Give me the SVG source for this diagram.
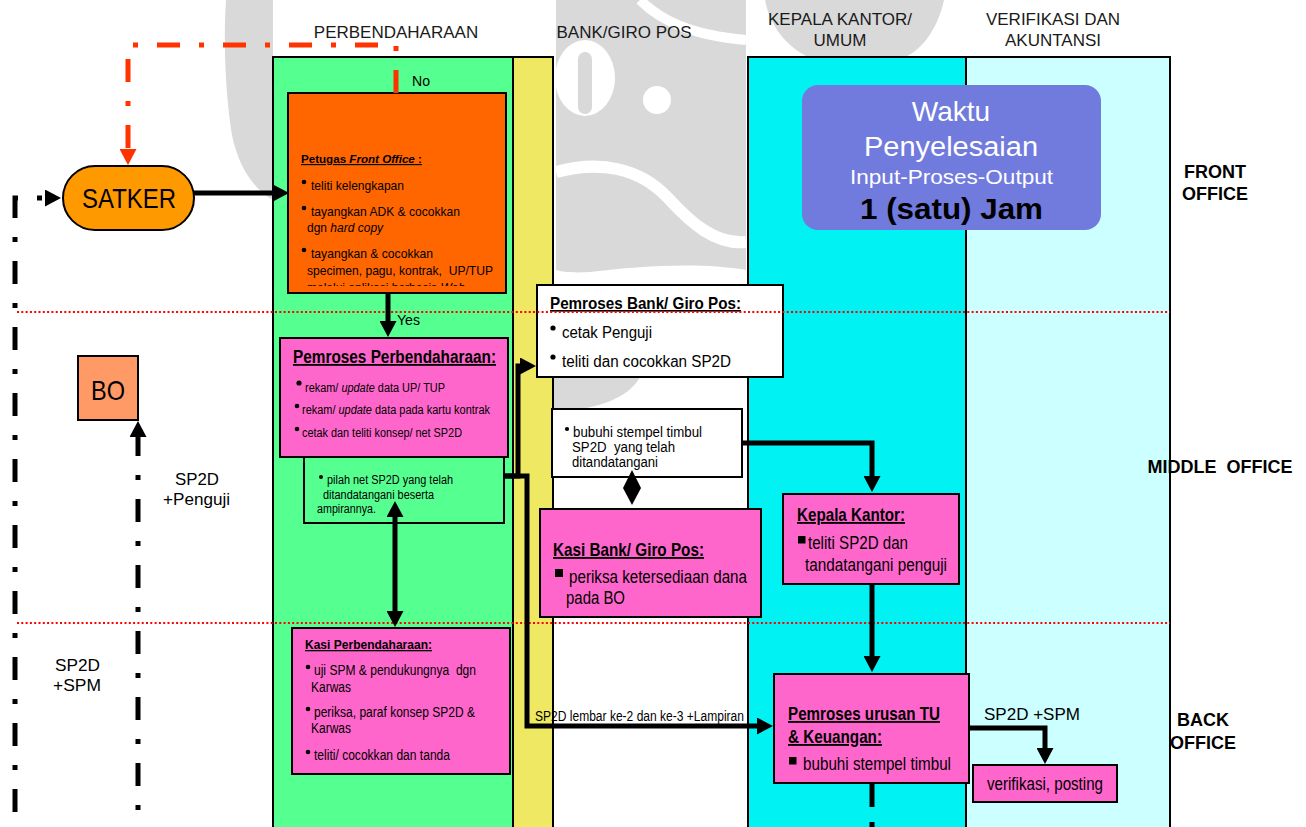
<svg xmlns="http://www.w3.org/2000/svg" width="1306" height="827" viewBox="0 0 1306 827">
  <style>
    text { font-family: "Liberation Sans", Arial, sans-serif; fill: #000; }
    .hdr { font-size: 17px; fill: #1a1a1a; text-anchor: middle; }
    .zone { font-size: 18px; font-weight: bold; text-anchor: middle; }
    .lane { stroke: #000; stroke-width: 2; }
    .box { stroke: #000; stroke-width: 2; }
    .pink { fill: #FF66CC; }
    .ttl { font-weight: bold; text-decoration: underline; }
    .conn { fill: none; stroke: #000; stroke-width: 5; }
    .dashdot { fill: none; stroke: #000; stroke-width: 5; stroke-dasharray: 23 19 5 19; }
    .sep { fill: none; stroke: #FF0000; stroke-width: 2.2; stroke-dasharray: 2 2.3; }
    .wm { fill: #d9d9d9; }
  </style>
  <defs>
    <marker id="arr" viewBox="0 0 16 17" refX="1" refY="8.5" markerWidth="16" markerHeight="17" markerUnits="userSpaceOnUse" orient="auto-start-reverse">
      <path d="M0,0 L16,8.5 L0,17 Z" fill="#000"/>
    </marker>
    <marker id="arrRed" viewBox="0 0 16 17" refX="1" refY="8.5" markerWidth="16" markerHeight="17" markerUnits="userSpaceOnUse" orient="auto">
      <path d="M0,0 L16,8.5 L0,17 Z" fill="#FF3300"/>
    </marker>
    <clipPath id="clipFO"><rect x="288" y="93" width="218" height="193"/></clipPath>
  </defs>

  <rect width="1306" height="827" fill="#fff"/>

  <!-- faint background emblem -->
  <g id="watermark">
    <path class="wm" d="M226,0 H273 V200 C252,188 238,165 232,135 C226,100 223,45 226,0 Z"/>
    <path class="wm" d="M765,0 H944 C938,28 922,50 905,57 H808 C786,46 770,26 765,0 Z"/>
    <path class="wm" d="M556,0 H746 V270 C700,262 640,266 590,272 C575,273 562,272 556,270 Z"/>
    <ellipse cx="585" cy="78" rx="30" ry="38" fill="#fff"/>
    <rect class="wm" x="578" y="52" width="14" height="62" rx="7"/>
    <circle cx="657" cy="100" r="14" fill="#fff"/>
    <path d="M556,172 C600,160 640,168 668,198 C690,222 715,245 746,242" fill="none" stroke="#fff" stroke-width="12"/>
    <path d="M640,0 C660,20 690,35 746,40" fill="none" stroke="#fff" stroke-width="10"/>
    <path class="wm" d="M553,377 H640 C630,396 600,410 553,412 Z"/>
  </g>

  <!-- swimlanes -->
  <g id="lanes">
    <rect class="lane" x="273" y="57" width="240" height="780" fill="#55FF90"/>
    <rect class="lane" x="513" y="57" width="40" height="780" fill="#EEE862"/>
    <line class="lane" x1="553" y1="57" x2="553" y2="827"/>
    <rect class="lane" x="748" y="57" width="218" height="780" fill="#00F2F2"/>
    <rect class="lane" x="966" y="57" width="204" height="780" fill="#CCFFFF"/>
  </g>

  <g id="lane-headers">
    <text class="hdr" x="396" y="38">PERBENDAHARAAN</text>
    <text class="hdr" x="624" y="38">BANK/GIRO POS</text>
    <text class="hdr" x="840" y="25">KEPALA KANTOR/</text>
    <text class="hdr" x="840" y="46">UMUM</text>
    <text class="hdr" x="1053" y="25">VERIFIKASI DAN</text>
    <text class="hdr" x="1053" y="46">AKUNTANSI</text>
  </g>

  <g id="zones">
    <text class="zone" x="1215" y="178">FRONT</text>
    <text class="zone" x="1215" y="200">OFFICE</text>
    <text class="zone" x="1220" y="473" xml:space="preserve">MIDDLE  OFFICE</text>
    <text class="zone" x="1203" y="726">BACK</text>
    <text class="zone" x="1203" y="749">OFFICE</text>
  </g>

  <g id="satker">
    <rect x="63" y="166" width="131" height="64" rx="32" fill="#FF9900" stroke="#000" stroke-width="2"/>
    <text x="82" y="208" font-size="28" textLength="94" lengthAdjust="spacingAndGlyphs">SATKER</text>
  </g>

  <g id="bo">
    <rect x="78" y="356" width="60" height="64" fill="#FF9966" stroke="#000" stroke-width="2"/>
    <text x="91" y="400" font-size="28" textLength="34" lengthAdjust="spacingAndGlyphs">BO</text>
  </g>

  <g id="waktu">
    <rect x="802" y="85" width="299" height="145" rx="16" fill="#717BDD"/>
    <text x="951" y="121" font-size="28" text-anchor="middle" style="fill:#fff">Waktu</text>
    <text x="864" y="156" font-size="27" style="fill:#fff" textLength="174" lengthAdjust="spacingAndGlyphs">Penyelesaian</text>
    <text x="850" y="184" font-size="21" style="fill:#fff" textLength="203" lengthAdjust="spacingAndGlyphs">Input-Proses-Output</text>
    <text x="860" y="219" font-size="30" font-weight="bold" textLength="183" lengthAdjust="spacingAndGlyphs">1 (satu) Jam</text>
  </g>

  <g id="petugas-front-office">
    <rect class="box" x="288" y="93" width="218" height="200" fill="#FF6600"/>
    <text class="ttl" x="301" y="163" font-size="11.6">Petugas <tspan font-style="italic">Front Office</tspan> :</text>
    <g font-size="13">
      <circle cx="304" cy="182" r="2.3"/>
      <text x="311" y="190" textLength="93" lengthAdjust="spacingAndGlyphs">teliti kelengkapan</text>
      <circle cx="304" cy="208" r="2.3"/>
      <text x="311" y="216" textLength="149" lengthAdjust="spacingAndGlyphs">tayangkan ADK &amp; cocokkan</text>
      <text x="307" y="232" font-size="12">dgn <tspan font-style="italic">hard copy</tspan></text>
      <circle cx="304" cy="250" r="2.3"/>
      <text x="311" y="258" textLength="122" lengthAdjust="spacingAndGlyphs">tayangkan &amp; cocokkan</text>
      <text x="307" y="275" xml:space="preserve" textLength="186" lengthAdjust="spacingAndGlyphs">specimen, pagu, kontrak,  UP/TUP</text>
      <text x="307" y="292" font-size="12" clip-path="url(#clipFO)">melalui aplikasi berbasis <tspan font-style="italic">Web</tspan></text>
    </g>
  </g>

  <g id="pilah-sp2d">
    <rect class="box" x="304" y="452" width="200" height="71" fill="#55FF90"/>
    <g font-size="12.5">
      <circle cx="321" cy="477" r="2"/>
      <text x="327" y="484" textLength="126" lengthAdjust="spacingAndGlyphs">pilah net SP2D yang telah</text>
      <text x="323" y="499" textLength="111" lengthAdjust="spacingAndGlyphs">ditandatangani beserta</text>
      <text x="317" y="513" textLength="59" lengthAdjust="spacingAndGlyphs">ampirannya.</text>
    </g>
  </g>

  <g id="pemroses-perbendaharaan">
    <rect class="box pink" x="280" y="338" width="228" height="119"/>
    <text class="ttl" x="293" y="363" font-size="18" textLength="203" lengthAdjust="spacingAndGlyphs">Pemroses Perbendaharaan:</text>
    <g font-size="12">
      <circle cx="299" cy="383" r="2.6"/>
      <text x="305" y="392" textLength="140" lengthAdjust="spacingAndGlyphs">rekam/ <tspan font-style="italic">update</tspan> data UP/ TUP</text>
      <circle cx="297" cy="406" r="2.3"/>
      <text x="302" y="414" textLength="188" lengthAdjust="spacingAndGlyphs">rekam/ <tspan font-style="italic">update</tspan> data pada kartu kontrak</text>
      <circle cx="297" cy="429" r="2.3"/>
      <text x="302" y="437" textLength="160" lengthAdjust="spacingAndGlyphs">cetak dan teliti konsep/ net SP2D</text>
    </g>
  </g>

  <g id="kasi-perbendaharaan">
    <rect class="box pink" x="292" y="628" width="218" height="146"/>
    <text class="ttl" x="305" y="649" font-size="13" textLength="127" lengthAdjust="spacingAndGlyphs">Kasi Perbendaharaan:</text>
    <g font-size="14">
      <circle cx="308" cy="667" r="2.3"/>
      <text x="314" y="675" xml:space="preserve" textLength="162" lengthAdjust="spacingAndGlyphs">uji SPM &amp; pendukungnya  dgn</text>
      <text x="311" y="692" textLength="40" lengthAdjust="spacingAndGlyphs">Karwas</text>
      <circle cx="308" cy="709" r="2.3"/>
      <text x="314" y="717" textLength="161" lengthAdjust="spacingAndGlyphs">periksa, paraf konsep SP2D &amp;</text>
      <text x="311" y="733" textLength="40" lengthAdjust="spacingAndGlyphs">Karwas</text>
      <circle cx="308" cy="752" r="2.3"/>
      <text x="314" y="760" textLength="136" lengthAdjust="spacingAndGlyphs">teliti/ cocokkan dan tanda</text>
    </g>
  </g>

  <g id="pemroses-bank">
    <rect class="box" x="537" y="285" width="246" height="92" fill="#fff"/>
    <text class="ttl" x="550" y="309" font-size="16.5" textLength="191" lengthAdjust="spacingAndGlyphs">Pemroses Bank/ Giro Pos:</text>
    <g font-size="16">
      <circle cx="553" cy="328" r="2.6"/>
      <text x="562" y="338" textLength="90" lengthAdjust="spacingAndGlyphs">cetak Penguji</text>
      <circle cx="553" cy="357" r="2.6"/>
      <text x="562" y="367" textLength="169" lengthAdjust="spacingAndGlyphs">teliti dan cocokkan SP2D</text>
    </g>
  </g>

  <g id="stempel-bank">
    <rect class="box" x="552" y="409" width="190" height="68" fill="#fff"/>
    <g font-size="14">
      <circle cx="567" cy="429" r="2.1"/>
      <text x="573" y="437" textLength="129" lengthAdjust="spacingAndGlyphs">bubuhi stempel timbul</text>
      <text x="572" y="452" xml:space="preserve" textLength="103" lengthAdjust="spacingAndGlyphs">SP2D  yang telah</text>
      <text x="572" y="467" textLength="86" lengthAdjust="spacingAndGlyphs">ditandatangani</text>
    </g>
  </g>

  <g id="kasi-bank">
    <rect class="box pink" x="540" y="509" width="221" height="108"/>
    <text class="ttl" x="553" y="556" font-size="18.5" textLength="151" lengthAdjust="spacingAndGlyphs">Kasi Bank/ Giro Pos:</text>
    <rect x="555" y="569" width="8" height="8"/>
    <text x="569" y="583" font-size="17.5" textLength="178" lengthAdjust="spacingAndGlyphs">periksa ketersediaan dana</text>
    <text x="566" y="604" font-size="17.5" textLength="59" lengthAdjust="spacingAndGlyphs">pada BO</text>
  </g>

  <g id="kepala-kantor">
    <rect class="box pink" x="783" y="494" width="176" height="90"/>
    <text class="ttl" x="797" y="521" font-size="18.5" textLength="108" lengthAdjust="spacingAndGlyphs">Kepala Kantor:</text>
    <rect x="798" y="536" width="7.5" height="7.5"/>
    <text x="808" y="549" font-size="17.5" textLength="100" lengthAdjust="spacingAndGlyphs">teliti SP2D dan</text>
    <text x="805" y="571" font-size="17.5" textLength="142" lengthAdjust="spacingAndGlyphs">tandatangani penguji</text>
  </g>

  <g id="pemroses-tu">
    <rect class="box pink" x="774" y="674" width="195" height="109"/>
    <text class="ttl" x="788" y="720" font-size="18.5" textLength="152" lengthAdjust="spacingAndGlyphs">Pemroses urusan TU</text>
    <text class="ttl" x="788" y="743" font-size="18.5" textLength="94" lengthAdjust="spacingAndGlyphs">&amp; Keuangan:</text>
    <rect x="789" y="757" width="7.5" height="7.5"/>
    <text x="803" y="770" font-size="17.5" textLength="148" lengthAdjust="spacingAndGlyphs">bubuhi stempel timbul</text>
  </g>

  <g id="verifikasi">
    <rect class="box pink" x="973" y="765" width="144" height="37"/>
    <text x="987" y="790" font-size="17.5" textLength="116" lengthAdjust="spacingAndGlyphs">verifikasi, posting</text>
  </g>

  <!-- zone separators -->
  <g id="separators">
    <line class="sep" x1="17" y1="312" x2="1170" y2="312"/>
    <line class="sep" x1="17" y1="623" x2="1170" y2="623"/>
  </g>

  <g id="connectors">
    <!-- returns -->
    <path d="M396,93 V45 H128 V150" fill="none" stroke="#FF3300" stroke-width="5" stroke-dasharray="23 19 5 19" marker-end="url(#arrRed)"/>
    <path class="dashdot" d="M15,827 V198 H46" stroke-dashoffset="51" marker-end="url(#arr)"/>
    <path class="dashdot" d="M138,827 V436" stroke-dashoffset="25" marker-end="url(#arr)"/>

    <!-- main flow -->
    <path class="conn" d="M194,193 H274" marker-end="url(#arr)"/>
    <path class="conn" d="M388,293 V322" marker-end="url(#arr)"/>
    <path class="conn" d="M504,476 H518 V366 H521" marker-end="url(#arr)"/>
    <path class="conn" d="M504,476 H527 V726 H758" marker-end="url(#arr)"/>
    <path class="conn" d="M395,516 V612" marker-start="url(#arr)" marker-end="url(#arr)"/>
    <path d="M632,470 L641,488 L632,505 L623,488 Z" fill="#000"/>
    <path class="conn" d="M742,443 H872 V477" marker-end="url(#arr)"/>
    <path class="conn" d="M872,584 V657" marker-end="url(#arr)"/>
    <path class="conn" d="M969,728 H1045 V749" marker-end="url(#arr)"/>
    <path class="conn" d="M872,783 V807 M872,822 V827"/>
  </g>

  <g id="connector-labels">
    <text x="412" y="86" font-size="14" textLength="18" lengthAdjust="spacingAndGlyphs">No</text>
    <text x="397" y="325" font-size="14" textLength="23" lengthAdjust="spacingAndGlyphs">Yes</text>
    <text x="535" y="721" font-size="14" textLength="209" lengthAdjust="spacingAndGlyphs">SP2D lembar ke-2 dan ke-3 +Lampiran</text>
    <text x="984" y="720" font-size="17" textLength="96" lengthAdjust="spacingAndGlyphs">SP2D +SPM</text>
    <text x="175" y="485" font-size="16.5" textLength="44" lengthAdjust="spacingAndGlyphs">SP2D</text>
    <text x="163" y="505" font-size="16.5" textLength="67" lengthAdjust="spacingAndGlyphs">+Penguji</text>
    <text x="55" y="671" font-size="16.5" textLength="45" lengthAdjust="spacingAndGlyphs">SP2D</text>
    <text x="53" y="691" font-size="16.5" textLength="48" lengthAdjust="spacingAndGlyphs">+SPM</text>
  </g>
</svg>
